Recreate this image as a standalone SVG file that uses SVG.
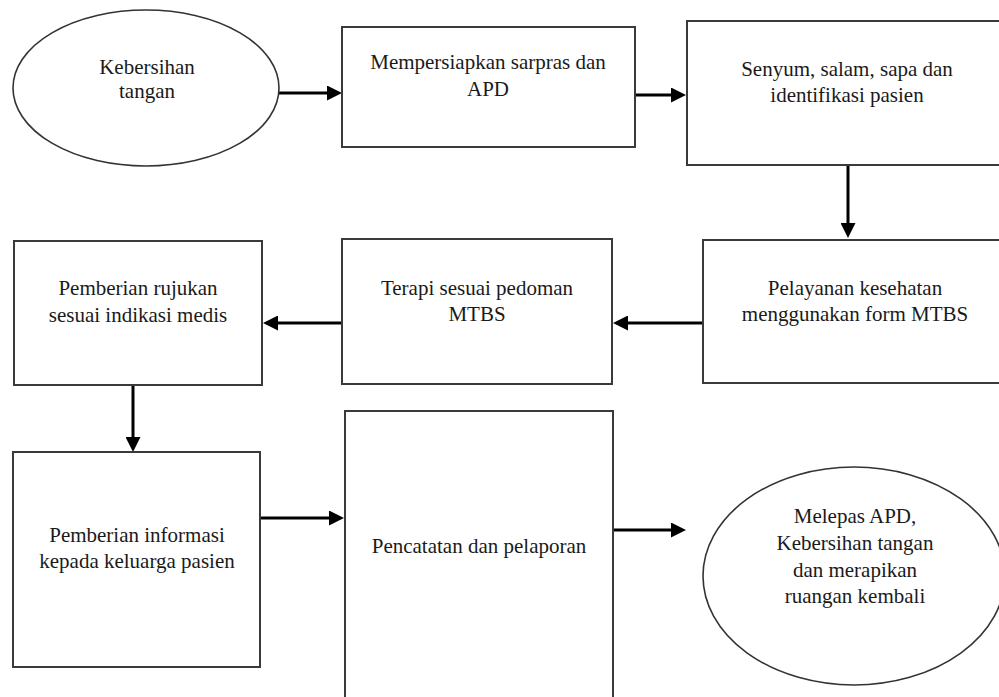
<svg xmlns="http://www.w3.org/2000/svg" width="999" height="697" viewBox="0 0 999 697">
<style>
.box{fill:#fff;stroke:#3a3a3a;stroke-width:2}
.ell{fill:#fff;stroke:#333;stroke-width:1.6}
.t{font-size:21px;fill:#1a1a1a;text-anchor:middle}
.c{stroke:#000;stroke-width:3;fill:none;marker-end:url(#ah)}
</style>
<defs>
<marker id="ah" markerUnits="userSpaceOnUse" markerWidth="15" markerHeight="15" refX="11" refY="7.5" orient="auto">
<path d="M0,0 L15,7.5 L0,15 z" fill="#000"/>
</marker>
</defs>
<rect width="999" height="697" fill="#fff"/>
<g id="connectors">
<line class="c" x1="279" y1="93" x2="338" y2="93"/>
<line class="c" x1="635" y1="95" x2="682" y2="95"/>
<line class="c" x1="848" y1="165" x2="848" y2="234"/>
<line class="c" x1="703" y1="323" x2="617" y2="323"/>
<line class="c" x1="342" y1="323" x2="267" y2="323"/>
<line class="c" x1="133" y1="385" x2="133" y2="448"/>
<line class="c" x1="260" y1="518" x2="340" y2="518"/>
<line class="c" x1="613" y1="530" x2="682" y2="530"/>
</g>
<g font-family="'Liberation Serif', 'DejaVu Serif', 'Times New Roman', serif">
<g id="n1">
<ellipse class="ell" cx="146" cy="88" rx="133" ry="78"/>
<text class="t" x="147" y="74">Kebersihan</text>
<text class="t" x="147" y="98">tangan</text>
</g>
<g id="n2">
<rect class="box" x="342" y="27" width="293" height="120"/>
<text class="t" x="488" y="69">Mempersiapkan sarpras dan</text>
<text class="t" x="488" y="96">APD</text>
</g>
<g id="n3">
<rect class="box" x="687" y="21" width="320" height="144"/>
<text class="t" x="847" y="76">Senyum, salam, sapa dan</text>
<text class="t" x="847" y="102">identifikasi pasien</text>
</g>
<g id="n4">
<rect class="box" x="703" y="240" width="304" height="143"/>
<text class="t" x="855" y="295">Pelayanan kesehatan</text>
<text class="t" x="855" y="321">menggunakan form MTBS</text>
</g>
<g id="n5">
<rect class="box" x="342" y="239" width="270" height="145"/>
<text class="t" x="477" y="295">Terapi sesuai pedoman</text>
<text class="t" x="477" y="321">MTBS</text>
</g>
<g id="n6">
<rect class="box" x="14" y="241" width="248" height="144"/>
<text class="t" x="138" y="295">Pemberian rujukan</text>
<text class="t" x="138" y="322">sesuai indikasi medis</text>
</g>
<g id="n7">
<rect class="box" x="13" y="452" width="247" height="215"/>
<text class="t" x="137" y="542">Pemberian informasi</text>
<text class="t" x="137" y="568">kepada keluarga pasien</text>
</g>
<g id="n8">
<rect class="box" x="345" y="411" width="268" height="300"/>
<text class="t" x="479" y="553">Pencatatan dan pelaporan</text>
</g>
<g id="n9">
<ellipse class="ell" cx="854" cy="576" rx="151" ry="109"/>
<text class="t" x="855" y="523">Melepas APD,</text>
<text class="t" x="855" y="550">Kebersihan tangan</text>
<text class="t" x="855" y="577">dan merapikan</text>
<text class="t" x="855" y="603">ruangan kembali</text>
</g>
</g>
</svg>
